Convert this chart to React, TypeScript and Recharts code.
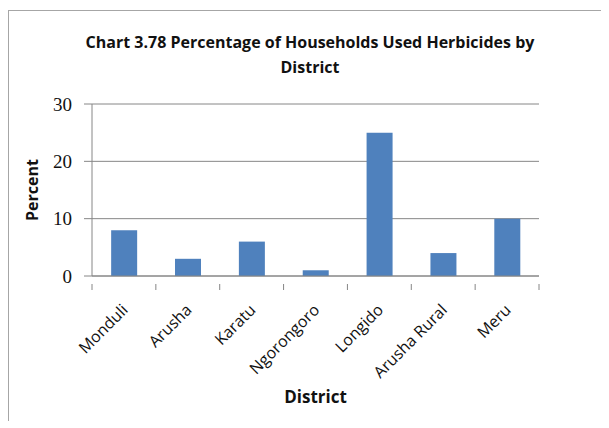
import React from 'react';
import { BarChart, Bar, XAxis, YAxis, CartesianGrid, Label } from 'recharts';

// District names along the x axis
const DISTRICTS = ['Monduli', 'Arusha', 'Karatu', 'Ngorongoro', 'Longido', 'Arusha Rural', 'Meru'];
// Percentage of households that used herbicides
const PERCENT = [8, 3, 6, 1, 25, 4, 10];
const Y_TICKS = [0, 10, 20, 30];

const TITLE_LINES = ['Chart 3.78 Percentage of Households Used Herbicides by', 'District'];

const chartData = DISTRICTS.map((district, i) => ({ district, percent: PERCENT[i] }));

const SANS = '"Open Sans", "DejaVu Sans", sans-serif';
const AXIS_GREY = '#868686';

// Excel-style category tick: boundary tick marks and a label rotated 45 degrees
const DistrictTick = (props: any) => {
  const { x, y, payload, index } = props;
  const half = payload.offset || 0;
  const lx = x + 5;
  const ly = y + 27;
  return (
    <g>
      <line x1={x - half} y1={y} x2={x - half} y2={y + 6} stroke={AXIS_GREY} />
      {index === DISTRICTS.length - 1 && (
        <line x1={x + half} y1={y} x2={x + half} y2={y + 6} stroke={AXIS_GREY} />
      )}
      <text
        x={lx}
        y={ly}
        textAnchor="end"
        transform={`rotate(-45, ${lx}, ${ly})`}
        fontFamily={SANS}
        fontSize={16}
        fill="#111"
      >
        {payload.value}
      </text>
    </g>
  );
};

export default function App() {
  return (
    <div
      style={{
        position: 'relative',
        width: 600,
        height: 410,
        marginTop: 2,
        borderLeft: '1px solid #a6a6a6',
        borderTop: '1px solid #a6a6a6',
        background: '#fff',
      }}
    >
      <div
        style={{
          position: 'absolute',
          left: 0,
          top: 19,
          width: 602,
          textAlign: 'center',
          fontFamily: SANS,
          fontWeight: 700,
          fontSize: 16,
          lineHeight: '25px',
          color: '#111',
        }}
      >
        {TITLE_LINES.map((t) => (
          <div key={t}>{t}</div>
        ))}
      </div>
      <BarChart
        width={600}
        height={409}
        data={chartData}
        margin={{ top: 93, right: 70, left: 23, bottom: 17 }}
        barCategoryGap="30%"
      >
        <CartesianGrid vertical={false} stroke={AXIS_GREY} />
        <XAxis
          dataKey="district"
          height={127}
          interval={0}
          tickLine={false}
          stroke={AXIS_GREY}
          tick={<DistrictTick />}
        >
          <Label
            value="District"
            position="insideBottom"
            offset={0}
            style={{ fontFamily: SANS, fontWeight: 700, fontSize: 17, fill: '#111' }}
          />
        </XAxis>
        <YAxis
          width={60}
          domain={[0, 30]}
          ticks={Y_TICKS}
          interval={0}
          stroke={AXIS_GREY}
          tickSize={8}
          tickMargin={12}
          tick={{ fill: '#111', fontFamily: '"Liberation Serif", serif', fontSize: 19 }}
        >
          <Label
            value="Percent"
            angle={-90}
            position="insideLeft"
            offset={0}
            style={{ textAnchor: 'middle', fontFamily: SANS, fontWeight: 700, fontSize: 16, fill: '#111' }}
          />
        </YAxis>
        <Bar dataKey="percent" fill="#4f81bd" isAnimationActive={false} />
      </BarChart>
    </div>
  );
}
